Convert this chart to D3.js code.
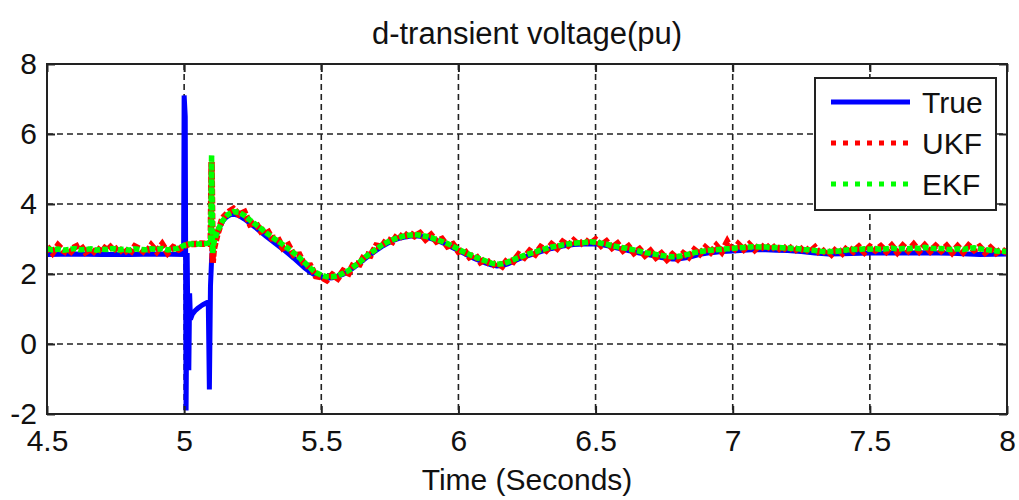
<!DOCTYPE html>
<html>
<head>
<meta charset="utf-8">
<script src="https://cdn.jsdelivr.net/npm/d3@7"></script>
<style>
  html, body { margin: 0; padding: 0; background: #fff; }
  svg { display: block; font-family: "Liberation Sans", Arial, sans-serif; }
  text { fill: #111; }
</style>
</head>
<body>
<svg id="chart" width="1019" height="500"></svg>
<script>
// ---- data -------------------------------------------------------------
const chartTitle = "d-transient voltage(pu)";
const xLabel = "Time (Seconds)";
const xTicks = [4.5, 5, 5.5, 6, 6.5, 7, 7.5, 8];
const xTickLabels = ["4.5", "5", "5.5", "6", "6.5", "7", "7.5", "8"];
const yTicks = [-2, 0, 2, 4, 6, 8];
const yTickLabels = ["-2", "0", "2", "4", "6", "8"];
const seriesNames = ["True", "UKF", "EKF"];

// true d-axis transient voltage (irregular time samples)
const trueT = [4.50, 4.60, 4.70, 4.80, 4.90, 4.998, 5.000, 5.004, 5.007, 5.011,
  5.014, 5.017, 5.020, 5.023, 5.030, 5.040, 5.050, 5.060, 5.070, 5.080,
  5.088, 5.092, 5.096, 5.100, 5.104, 5.11, 5.12, 5.13, 5.14, 5.15,
  5.16, 5.17, 5.18, 5.20, 5.22, 5.24, 5.26, 5.28, 5.30, 5.32,
  5.34, 5.36, 5.38, 5.40, 5.42, 5.44, 5.46, 5.48, 5.50, 5.52,
  5.54, 5.56, 5.58, 5.60, 5.62, 5.64, 5.66, 5.68, 5.70, 5.72,
  5.74, 5.76, 5.78, 5.80, 5.82, 5.84, 5.86, 5.88, 5.90, 5.92,
  5.94, 5.96, 5.98, 6.00, 6.02, 6.04, 6.06, 6.08, 6.10, 6.12,
  6.14, 6.16, 6.18, 6.20, 6.22, 6.24, 6.26, 6.28, 6.30, 6.34,
  6.38, 6.42, 6.46, 6.50, 6.54, 6.58, 6.62, 6.66, 6.70, 6.74,
  6.78, 6.80, 6.84, 6.88, 6.92, 6.96, 7.00, 7.04, 7.08, 7.12,
  7.16, 7.20, 7.25, 7.30, 7.35, 7.40, 7.50, 7.60, 7.70, 7.80,
  7.90, 8.00];
const trueV = [2.56, 2.57, 2.56, 2.56, 2.57, 2.56, 7.10, 6.50, -1.90, 2.60,
  0.20, -0.75, 1.45, 0.70, 0.85, 0.95, 1.02, 1.08, 1.13, 1.17,
  1.20, -1.30, 1.65, 2.40, 2.78, 2.95, 3.15, 3.35, 3.50, 3.60,
  3.66, 3.70, 3.71, 3.67, 3.57, 3.45, 3.33, 3.20, 3.07, 2.95,
  2.83, 2.71, 2.58, 2.45, 2.31, 2.17, 2.05, 1.96, 1.91, 1.88,
  1.89, 1.93, 1.99, 2.08, 2.19, 2.31, 2.44, 2.56, 2.67, 2.78,
  2.87, 2.95, 3.01, 3.05, 3.08, 3.09, 3.08, 3.05, 3.01, 2.96,
  2.90, 2.83, 2.75, 2.67, 2.59, 2.51, 2.44, 2.37, 2.31, 2.26,
  2.23, 2.24, 2.29, 2.36, 2.43, 2.49, 2.54, 2.59, 2.64, 2.73,
  2.80, 2.84, 2.86, 2.86, 2.81, 2.74, 2.67, 2.60, 2.54, 2.47,
  2.43, 2.43, 2.48, 2.56, 2.61, 2.64, 2.66, 2.68, 2.70, 2.69,
  2.68, 2.67, 2.64, 2.60, 2.57, 2.58, 2.60, 2.60, 2.61, 2.59,
  2.56, 2.57];

// estimator outputs, sampled every 0.02 s from 4.5 s to 8.0 s
const estStart = 4.5, estStep = 0.02;
const ukfV = [2.78, 2.60, 2.82, 2.66, 2.57, 2.76, 2.84, 2.62, 2.72, 2.58,
  2.80, 2.68, 2.83, 2.61, 2.75, 2.56, 2.79, 2.71, 2.59, 2.82,
  2.64, 2.85, 2.60, 2.77, 2.70, 2.80, 2.86, 2.86, 2.87, 2.86,
  5.20, 3.10, 3.60, 3.76, 3.86, 3.70, 3.77, 3.42, 3.47, 3.22,
  3.29, 3.02, 3.04, 2.74, 2.83, 2.54, 2.55, 2.23, 2.24, 1.94,
  1.91, 1.82, 1.98, 1.87, 2.09, 2.02, 2.32, 2.28, 2.57, 2.53,
  2.81, 2.78, 3.00, 2.92, 3.14, 3.01, 3.19, 3.08, 3.17, 2.99,
  3.12, 2.93, 3.00, 2.79, 2.85, 2.64, 2.69, 2.48, 2.56, 2.34,
  2.43, 2.23, 2.33, 2.22, 2.42, 2.35, 2.56, 2.47, 2.66, 2.56,
  2.77, 2.67, 2.85, 2.73, 2.92, 2.81, 2.96, 2.82, 2.98, 2.86,
  2.98, 2.81, 2.93, 2.75, 2.87, 2.67, 2.79, 2.60, 2.71, 2.53,
  2.66, 2.47, 2.59, 2.41, 2.56, 2.42, 2.59, 2.48, 2.69, 2.57,
  2.76, 2.62, 2.81, 2.63, 2.92, 2.64, 2.85, 2.70, 2.85, 2.69,
  2.84, 2.69, 2.85, 2.66, 2.81, 2.66, 2.80, 2.62, 2.78, 2.62,
  2.76, 2.56, 2.71, 2.56, 2.74, 2.59, 2.78, 2.64, 2.78, 2.62,
  2.78, 2.67, 2.79, 2.64, 2.81, 2.62, 2.81, 2.66, 2.84, 2.65,
  2.82, 2.65, 2.80, 2.66, 2.80, 2.61, 2.79, 2.62, 2.81, 2.68,
  2.78, 2.61, 2.75, 2.60, 2.71, 2.60];
const ekfV = [2.72, 2.69, 2.71, 2.68, 2.70, 2.73, 2.69, 2.70, 2.72, 2.68,
  2.71, 2.70, 2.73, 2.69, 2.71, 2.68, 2.72, 2.70, 2.69, 2.72,
  2.70, 2.73, 2.69, 2.71, 2.74, 2.82, 2.86, 2.86, 2.86, 2.87,
  5.40, 3.20, 3.52, 3.70, 3.78, 3.76, 3.67, 3.54, 3.42, 3.30,
  3.17, 3.06, 2.95, 2.84, 2.72, 2.60, 2.47, 2.32, 2.17, 2.04,
  1.97, 1.92, 1.92, 1.95, 2.02, 2.10, 2.22, 2.34, 2.48, 2.60,
  2.71, 2.82, 2.91, 2.98, 3.04, 3.08, 3.11, 3.13, 3.11, 3.08,
  3.04, 2.99, 2.93, 2.87, 2.79, 2.71, 2.63, 2.56, 2.49, 2.43,
  2.37, 2.31, 2.28, 2.29, 2.34, 2.41, 2.47, 2.53, 2.58, 2.63,
  2.68, 2.73, 2.77, 2.80, 2.83, 2.86, 2.88, 2.89, 2.90, 2.92,
  2.91, 2.88, 2.85, 2.81, 2.78, 2.75, 2.72, 2.69, 2.65, 2.61,
  2.59, 2.56, 2.53, 2.51, 2.49, 2.50, 2.53, 2.57, 2.61, 2.64,
  2.66, 2.68, 2.69, 2.71, 2.72, 2.73, 2.75, 2.76, 2.77, 2.78,
  2.77, 2.77, 2.76, 2.76, 2.75, 2.74, 2.73, 2.72, 2.70, 2.69,
  2.67, 2.65, 2.64, 2.64, 2.65, 2.67, 2.69, 2.71, 2.70, 2.72,
  2.71, 2.73, 2.70, 2.72, 2.74, 2.71, 2.73, 2.72, 2.75, 2.73,
  2.76, 2.74, 2.72, 2.73, 2.71, 2.70, 2.72, 2.70, 2.73, 2.75,
  2.72, 2.70, 2.68, 2.66, 2.65, 2.64];

// extra samples around the fault-clearing spike
const ukfSpikeT = [5.097, 5.104, 5.108];
const ukfSpikeV = [2.88, 2.32, 2.70];
const ekfSpikeT = [5.097, 5.104, 5.108];
const ekfSpikeV = [2.90, 2.60, 2.88];

// ---- layout -----------------------------------------------------------
const svg = d3.select("#chart");
const plotLeft = 47, plotRight = 1007, plotTop = 64, plotBottom = 414;
const x = d3.scaleLinear().domain([4.5, 8]).range([plotLeft, plotRight]);
const y = d3.scaleLinear().domain([-2, 8]).range([plotBottom, plotTop]);

function estSeries(values, extraT, extraV) {
  const pts = values.map((v, i) => [estStart + i * estStep, v]);
  extraT.forEach((t, i) => pts.push([t, extraV[i]]));
  return pts.sort((a, b) => a[0] - b[0]);
}
const trueData = trueT.map((t, i) => [t, trueV[i]]);
const ukfData = estSeries(ukfV, ukfSpikeT, ukfSpikeV);
const ekfData = estSeries(ekfV, ekfSpikeT, ekfSpikeV);

svg.append("rect").attr("width", 1019).attr("height", 500).attr("fill", "#fff");

// grid
const grid = svg.append("g").attr("stroke", "#222").attr("stroke-width", 1.6)
  .attr("stroke-dasharray", "6,4");
grid.selectAll(".gx").data(xTicks.slice(1, -1)).join("line")
  .attr("x1", d => x(d)).attr("x2", d => x(d)).attr("y1", plotTop).attr("y2", plotBottom);
grid.selectAll(".gy").data(yTicks.slice(1, -1)).join("line")
  .attr("y1", d => y(d)).attr("y2", d => y(d)).attr("x1", plotLeft).attr("x2", plotRight);

// data lines
svg.append("clipPath").attr("id", "plotclip").append("rect")
  .attr("x", plotLeft).attr("y", plotTop)
  .attr("width", plotRight - plotLeft).attr("height", plotBottom - plotTop);
const plot = svg.append("g").attr("clip-path", "url(#plotclip)");
const line = d3.line().x(d => x(d[0])).y(d => y(d[1]));

plot.append("path").datum(trueData).attr("d", line)
  .attr("fill", "none").attr("stroke", "#0000ff").attr("stroke-width", 5)
  .attr("stroke-linejoin", "miter");
plot.append("path").datum(ukfData).attr("d", line)
  .attr("fill", "none").attr("stroke", "#ff0000").attr("stroke-width", 6.5)
  .attr("stroke-dasharray", "6,2");
plot.append("path").datum(ekfData).attr("d", line)
  .attr("fill", "none").attr("stroke", "#00ff00").attr("stroke-width", 5.5)
  .attr("stroke-dasharray", "6,2");

// axes
const fontSize = 30;
const axB = d3.axisBottom(x).tickValues(xTicks).tickFormat((d, i) => xTickLabels[i])
  .tickSizeInner(-8).tickSizeOuter(0).tickPadding(16);
const axL = d3.axisLeft(y).tickValues(yTicks).tickFormat((d, i) => yTickLabels[i])
  .tickSizeInner(-8).tickSizeOuter(0).tickPadding(10);
const axT = d3.axisTop(x).tickValues(xTicks).tickFormat("").tickSizeInner(-8).tickSizeOuter(0);
const axR = d3.axisRight(y).tickValues(yTicks).tickFormat("").tickSizeInner(-8).tickSizeOuter(0);

function styleAxis(g) {
  g.select(".domain").remove();
  g.selectAll(".tick line").attr("stroke", "#222").attr("stroke-width", 2);
  g.selectAll("text").attr("font-size", fontSize).attr("fill", "#111")
    .attr("font-family", "Liberation Sans, Arial, sans-serif");
}
svg.append("g").attr("transform", `translate(0,${plotBottom})`).call(axB).call(styleAxis);
svg.append("g").attr("transform", `translate(${plotLeft},0)`).call(axL).call(styleAxis);
svg.append("g").attr("transform", `translate(0,${plotTop})`).call(axT).call(styleAxis);
svg.append("g").attr("transform", `translate(${plotRight},0)`).call(axR).call(styleAxis);

// frame
svg.append("rect").attr("x", plotLeft).attr("y", plotTop)
  .attr("width", plotRight - plotLeft).attr("height", plotBottom - plotTop)
  .attr("fill", "none").attr("stroke", "#222").attr("stroke-width", 2);

// titles
svg.append("text").attr("x", (plotLeft + plotRight) / 2).attr("y", 44)
  .attr("text-anchor", "middle").attr("font-size", 31).text(chartTitle);
svg.append("text").attr("x", (plotLeft + plotRight) / 2).attr("y", 490)
  .attr("text-anchor", "middle").attr("font-size", fontSize).text(xLabel);

// legend
const lg = svg.append("g");
lg.append("rect").attr("x", 815).attr("y", 78).attr("width", 181).attr("height", 132)
  .attr("fill", "#fff").attr("stroke", "#222").attr("stroke-width", 2);
const legendStyles = [
  { color: "#0000ff", dash: null },
  { color: "#ff0000", dash: "5,7" },
  { color: "#00ff00", dash: "5,7" }
];
seriesNames.forEach((name, i) => {
  const cy = 102 + i * 41;
  const l = lg.append("line").attr("x1", 831).attr("x2", 910).attr("y1", cy).attr("y2", cy)
    .attr("stroke", legendStyles[i].color).attr("stroke-width", 5);
  if (legendStyles[i].dash) l.attr("stroke-dasharray", legendStyles[i].dash);
  lg.append("text").attr("x", 922).attr("y", cy).attr("dy", "0.36em")
    .attr("font-size", fontSize).text(name);
});
</script>
</body>
</html>
